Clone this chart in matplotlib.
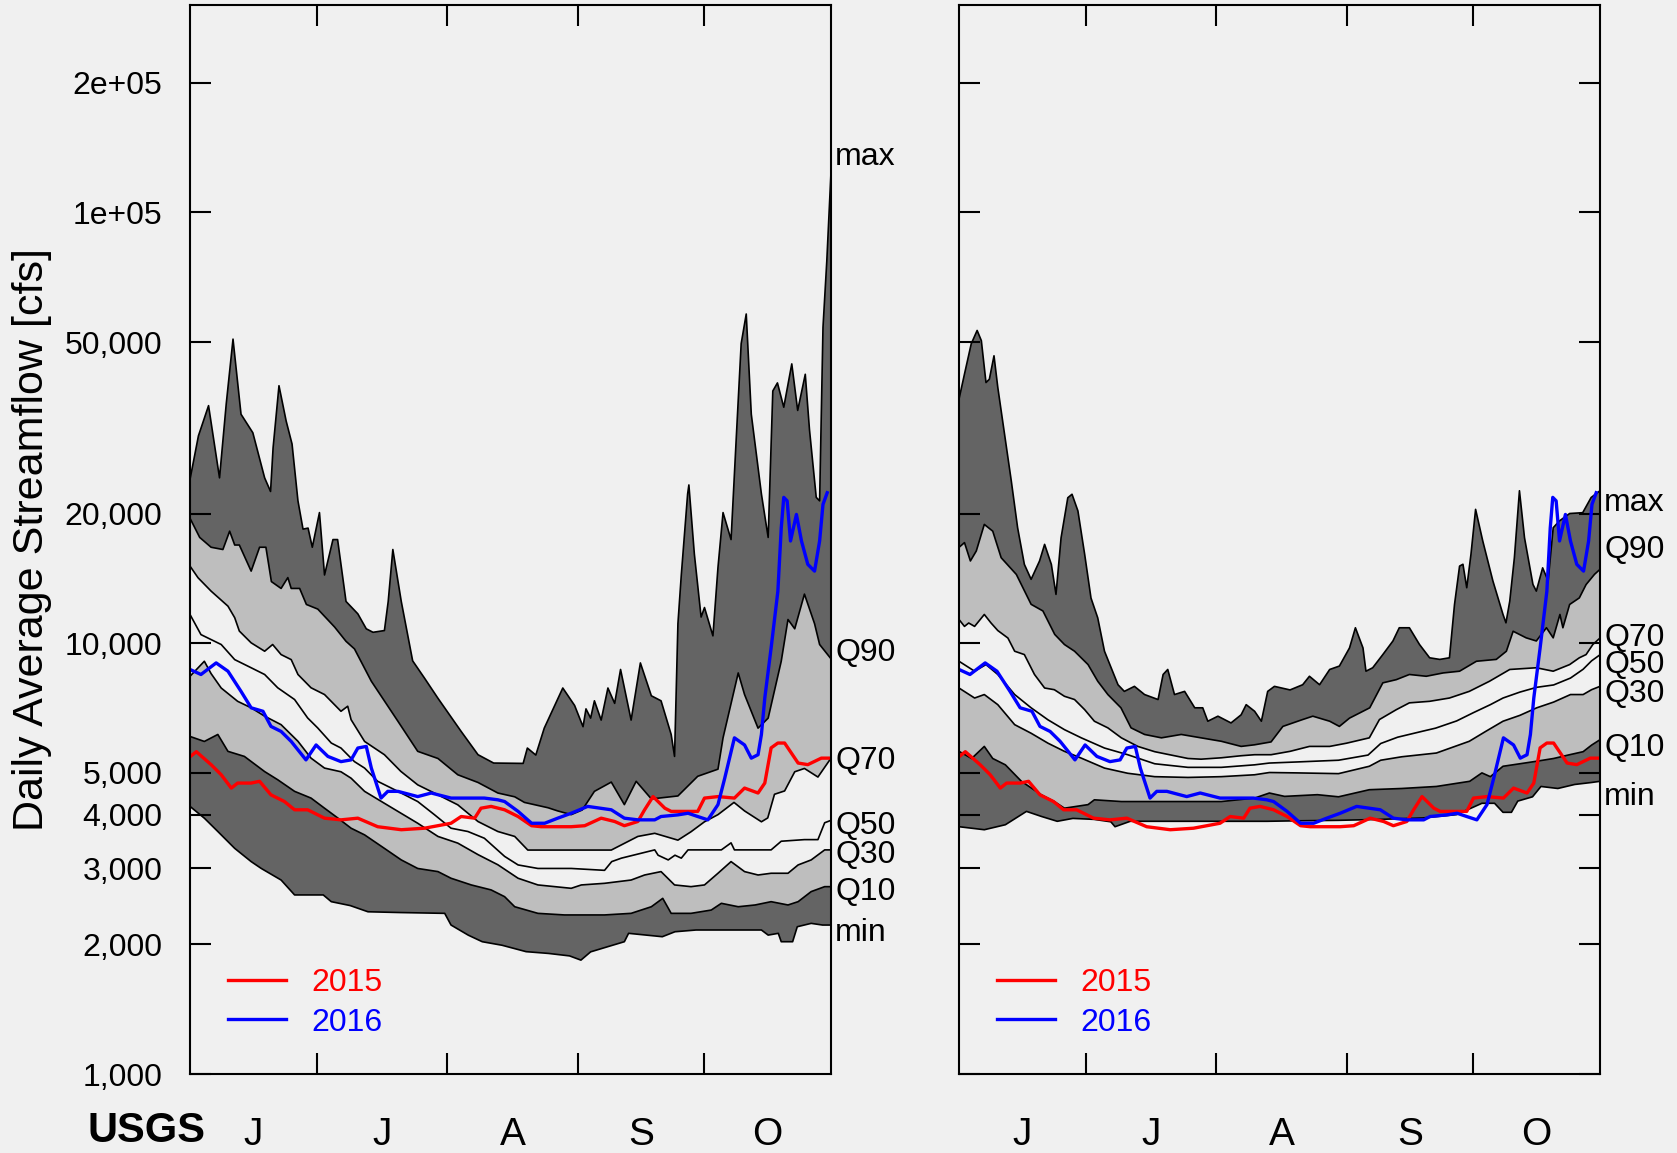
import numpy as np
import matplotlib.pyplot as plt
from matplotlib.ticker import FixedLocator, FixedFormatter, NullFormatter, NullLocator

plt.rcParams['font.family'] = ['Liberation Sans', 'DejaVu Sans']

# day 0 = June 1, day 152 = Oct 31; values in cfs (day, value)
# left panel quantiles
L_MAX = [(0, 24000), (2, 30300), (4.4, 35600), (7, 24200), (8.6, 36000), (10.2, 50800), (12.1, 34000),
         (14.9, 30800), (17.7, 24200), (19.1, 22500), (19.7, 28400), (21.1, 39600), (22.8, 32800),
         (24.2, 29000), (25.6, 21400), (26.8, 18400), (28, 18500), (29, 16700), (30.7, 20100),
         (31.9, 14400), (33.9, 17400), (35, 17400), (37, 12500), (39.8, 11700), (41.8, 10800),
         (43.4, 10600), (46.1, 10700), (47, 12500), (48.1, 16500), (50.1, 12500), (52.8, 9100),
         (55.6, 8300), (58.8, 7450), (64.3, 6240), (68.3, 5510), (72, 5270), (79, 5260), (80, 5710),
         (82, 5500), (84, 6350), (88.4, 7870), (91.2, 7170), (93.2, 6400), (93.9, 7040), (95, 6700),
         (95.9, 7350), (97.5, 6630), (99.1, 7870), (100.7, 7250), (102.1, 8690), (104.6, 6630),
         (106.8, 9000), (109.4, 7550), (111.7, 7350), (114.1, 6140), (114.9, 5460), (115.7, 11100),
         (116.5, 14400), (118, 22200), (118.3, 23300), (119.6, 16100), (121.2, 11500), (122, 12100),
         (124, 10400), (125.2, 15000), (126.4, 20100), (128.3, 17400), (129.5, 29500), (130.7, 49600),
         (131.9, 58100), (133.1, 34000), (135.5, 22200), (137.1, 17600), (138.2, 38500), (139.3, 40200),
         (140.8, 35300), (142.7, 44500), (144.1, 34700), (145.9, 42100), (146.9, 31300), (148.5, 21800),
         (149.3, 21400), (150.1, 54100), (151, 77000), (152, 124000)]
L_Q90 = [(0, 19500), (2.3, 17600), (5, 16700), (7.8, 16500), (9.4, 18200), (10.6, 16900), (11.7, 16900),
         (14.5, 14700), (16.5, 16700), (18, 16700), (19.3, 13900), (21.6, 13400), (23.2, 14200),
         (24, 13400), (26, 13400), (27.6, 12300), (30.3, 12000), (34.3, 10900), (37, 10100), (39, 9700),
         (43, 8160), (49.3, 6590), (54, 5610), (58.8, 5400), (63.5, 4950), (68.3, 4750), (73, 4490),
         (77, 4400), (79.3, 4270), (84.9, 4150), (87.2, 4080), (90.4, 4000), (93, 4100), (95.9, 4530),
         (99.9, 4760), (103, 4220), (105.8, 4780), (109.4, 4350), (115.7, 4420), (120.4, 4910),
         (125.2, 5100), (126.4, 6030), (130, 8530), (131.5, 7600), (134.7, 6350), (137.1, 6700),
         (140.2, 9080), (141.8, 11350), (143.4, 10800), (145.7, 13000), (148.1, 11100), (149.3, 9930),
         (152, 9200)]
L_Q70 = [(0, 15100), (1.9, 14190), (5, 13210), (9, 12190), (10.6, 11460), (11.7, 10670), (14.5, 10020),
         (17.7, 9580), (19.6, 9930), (21.6, 9410), (24, 9160), (25.6, 8460), (28.7, 7880), (31.9, 7600),
         (35.8, 6950), (37.4, 7140), (38.2, 6645), (41.4, 5915), (46.1, 5510), (50, 5040), (54, 4690),
         (58.8, 4446), (63.5, 4215), (68.3, 3855), (73, 3655), (77, 3560), (80.1, 3310), (90.4, 3310),
         (99.9, 3310), (106.2, 3560), (110.2, 3620), (115.7, 3490), (118.8, 3650), (122, 3850),
         (125.2, 4000), (129, 4270), (131.5, 4080), (135.5, 3850), (137, 3930), (138.6, 4460),
         (141, 4540), (143.4, 5030), (145.7, 5120), (148.9, 4890), (152, 5410)]
L_Q50 = [(0, 11660), (2.6, 10470), (7.4, 9930), (10.6, 9160), (14.5, 8770), (17.7, 8460), (20.8, 7880),
         (24.8, 7400), (27.9, 6706), (30.3, 6355), (33.5, 5865), (35.8, 5710), (39, 5310), (41.4, 5130),
         (44.5, 4780), (49.3, 4530), (54, 4290), (58, 3996), (61.9, 3720), (65.9, 3655), (69.8, 3526),
         (74.6, 3200), (77.8, 3057), (82.5, 3000), (90.4, 3000), (98.3, 2970), (100, 3112), (102.3, 3170),
         (110.2, 3313), (111, 3220), (113.4, 3140), (115, 3220), (116.5, 3170), (118.1, 3313),
         (126, 3313), (128.3, 3440), (129.1, 3313), (137.8, 3313), (140.2, 3470), (145.7, 3500),
         (148.9, 3500), (150.5, 3830), (152, 3880)]
L_Q30 = [(0, 8380), (3.4, 9080), (5, 8500), (7.4, 7870), (11.3, 7330), (14.5, 7080), (17.7, 6770),
         (21.6, 6470), (25.6, 5920), (28.7, 5410), (31.9, 5130), (35.8, 5030), (38.2, 4860), (41.4, 4530),
         (46.1, 4250), (49.3, 4070), (54, 3820), (58.8, 3560), (63.5, 3435), (68.3, 3230), (73, 3060),
         (77.8, 2847), (82.5, 2747), (90.4, 2698), (92.8, 2747), (98.3, 2771), (104.6, 2820),
         (107.8, 2897), (111.7, 2950), (114.9, 2747), (118.8, 2722), (122, 2747), (125.2, 2924),
         (128.3, 3112), (131.5, 2950), (134.7, 2897), (137.8, 2924), (141.8, 2924), (144.2, 3057),
         (147.3, 3140), (150.5, 3313), (152, 3313)]
L_Q10 = [(0, 6075), (3.4, 5915), (6.6, 6140), (9, 5610), (12.9, 5460), (17.7, 5035), (20.8, 4820),
         (24.8, 4530), (28.7, 4370), (31.9, 4140), (35.1, 3925), (38.2, 3720), (41.4, 3590), (46.1, 3340),
         (50.1, 3140), (54, 3000), (58.8, 2950), (61.9, 2847), (66.7, 2747), (71.4, 2675), (74.6, 2580),
         (77, 2445), (82.5, 2360), (88.8, 2340), (98.3, 2340), (104.6, 2360), (109.4, 2445),
         (112.1, 2557), (114.1, 2360), (118.8, 2360), (123.6, 2402), (126, 2490), (130, 2445),
         (134, 2468), (137.8, 2512), (141.8, 2468), (144.2, 2512), (147.3, 2651), (150.5, 2722),
         (152, 2722)]
L_MIN = [(0, 4180), (3.4, 3925), (6.6, 3655), (10.6, 3340), (14.5, 3112), (16.9, 3000), (21.6, 2820),
         (24.8, 2604), (31.6, 2604), (33.5, 2512), (38, 2460), (42.2, 2380), (50, 2370), (60.4, 2360),
         (61.9, 2217), (66, 2100), (69.3, 2028), (74, 1990), (79.7, 1923), (85, 1905), (90, 1880),
         (92.7, 1838), (95, 1921), (99, 1974), (103, 2028), (104, 2121), (112, 2083), (115, 2139),
         (120, 2159), (130, 2159), (135.5, 2159), (137.1, 2101), (139.5, 2121), (140.2, 2028),
         (142.9, 2028), (144, 2197), (147.3, 2237), (150, 2217), (152, 2217)]

# right panel quantiles
R_MAX = [(0, 36870), (1.3, 42150), (2.9, 49540), (4.3, 53210), (5.3, 50390), (6.4, 40280), (7.2, 41000),
         (8.3, 46470), (9.2, 39250), (10.8, 30570), (12.4, 23810), (13.9, 18540), (15.5, 15240),
         (17.1, 14070), (19.1, 15520), (20.3, 16960), (21.9, 15240), (23, 12980), (24.2, 17560),
         (25.8, 21760), (26.8, 22170), (28.2, 20280), (29.8, 16080), (31.3, 12730), (32.9, 11450),
         (34.5, 9580), (36.1, 8760), (37.7, 8010), (39.2, 7730), (41.6, 7940), (44, 7600), (47.2, 7400),
         (48.4, 8460), (49.5, 8690), (51.1, 7600), (53.5, 7730), (55.9, 7080), (57.8, 7080), (59, 6590),
         (61.4, 6770), (64.5, 6530), (66.9, 6820), (68.1, 7200), (70.1, 6950), (71.7, 6590), (73.2, 7730),
         (74.8, 7940), (78.5, 7790), (81.5, 8010), (83.1, 8380), (85.5, 8010), (87.9, 8690), (90.2, 8850),
         (92.6, 9750), (94, 10860), (95.8, 9750), (96.5, 8610), (98.1, 8770), (100.5, 9410),
         (102.9, 10120), (104.4, 10860), (106.8, 10860), (109.2, 9930), (111.6, 9250), (114, 9170),
         (116.3, 9250), (117.5, 12300), (118.7, 15100), (119.5, 15250), (120.4, 13450), (121.4, 16080),
         (122.5, 20450), (124.2, 17270), (126.6, 13950), (129, 11660), (129.7, 11150), (130.6, 12520),
         (131.7, 15800), (132.9, 22590), (134.1, 17570), (136.1, 13690), (136.9, 13210), (138.4, 14960),
         (139.7, 13950), (140.9, 18540), (142.4, 19230), (144.8, 20000), (147.9, 20090), (149.9, 21790),
         (152, 22590)]
R_Q90 = [(0, 16690), (1.3, 17120), (2.7, 15520), (4.1, 16370), (6, 18870), (8, 18200), (10, 15790),
         (13.6, 14440), (17.1, 12310), (19.9, 11880), (22.7, 10480), (25, 9930), (27.4, 9580),
         (30.6, 8920), (32.9, 8160), (35.3, 7600), (38.4, 7080), (40.8, 6360), (44, 6140), (48, 6030),
         (52.7, 6140), (57.4, 6030), (62.2, 5920), (66.9, 5760), (70.1, 5810), (74, 5900), (76.8, 6410),
         (81.5, 6650), (83.9, 6770), (87.9, 6590), (90.2, 6410), (92.6, 6700), (97.4, 7080), (100.5, 8090),
         (103.7, 8230), (106.8, 8460), (110.8, 8380), (114.8, 8530), (118.7, 8610), (122.7, 9080),
         (127.4, 9170), (129.8, 9580), (131.4, 10660), (134.5, 10290), (136.9, 10120), (139.3, 10860),
         (140.9, 10290), (142.5, 11660), (143.2, 10860), (144.8, 12300), (147.1, 12740), (148.7, 13680),
         (150.7, 14450), (152, 14840)]
R_Q70 = [(0, 11350), (1.3, 10940), (2.3, 11140), (3.7, 10940), (6, 11660), (7.6, 11140), (9.2, 10700),
         (11.6, 10280), (13.2, 9580), (15.5, 9410), (17.9, 8460), (20.3, 7870), (22.6, 7800), (25, 7530),
         (27.4, 7400), (29.8, 7010), (32.1, 6590), (35.3, 6360), (38.5, 6030), (42.4, 5760), (46.4, 5600),
         (50.3, 5500), (54.3, 5400), (57.4, 5380), (62.2, 5420), (66.9, 5480), (70.1, 5510), (74, 5510),
         (78.5, 5610), (83.1, 5760), (87.9, 5760), (91.9, 5860), (97.3, 6030), (99.7, 6650), (103.7, 7010),
         (106.8, 7270), (111.6, 7330), (116.3, 7460), (121, 7730), (125.8, 8160), (130.6, 8690),
         (136.9, 8770), (140.9, 8610), (144.8, 8920), (147.1, 9250), (148.7, 9410), (150.3, 9930),
         (152, 10280)]
R_Q50 = [(0, 9080), (3.7, 8610), (6.4, 8920), (9.2, 8460), (13.2, 7600), (17.1, 7080), (21.1, 6640),
         (25, 6300), (29, 6030), (34.5, 5710), (40, 5510), (46.4, 5250), (54.3, 5150), (62.2, 5150),
         (70.1, 5220), (73.6, 5270), (80, 5300), (90, 5350), (97, 5500), (100, 5850), (104, 6050),
         (110, 6250), (113, 6350), (118, 6600), (122, 6900), (126, 7200), (129, 7460), (133, 7700),
         (137, 7900), (141, 8000), (145, 8300), (148, 8700), (150, 9100), (152, 9400)]
R_Q30 = [(0, 7870), (3.7, 7460), (6, 7600), (9.2, 7200), (13.2, 6470), (17.1, 6180), (21.1, 5860),
         (25, 5610), (29, 5410), (34.5, 5130), (40, 4990), (46.4, 4900), (54.3, 4880), (62.2, 4900),
         (70.1, 4950), (73.6, 5010), (80, 5000), (90, 4980), (97.3, 5180), (100, 5350), (105, 5450),
         (113.2, 5560), (121, 5920), (125, 6250), (129, 6590), (133, 6800), (137, 7080), (141, 7300),
         (145, 7600), (148, 7600), (150, 7800), (152, 7940)]
R_Q10 = [(0, 5610), (3, 5400), (6, 5760), (8, 5400), (11, 5220), (14.8, 4780), (19.5, 4450), (22.6, 4290),
         (25, 4140), (30.6, 4220), (32.1, 4330), (38.5, 4290), (46.4, 4290), (54.3, 4290), (62.2, 4290),
         (70.1, 4370), (73.6, 4490), (77.2, 4410), (85, 4450), (90, 4400), (97.3, 4570), (105, 4600),
         (113.2, 4650), (121.1, 4780), (124, 5000), (126, 4900), (129, 5180), (133, 5250), (136.9, 5320),
         (141, 5400), (144.8, 5510), (148, 5600), (150, 5800), (152, 5970)]
R_MIN = [(0, 3750), (6, 3690), (11, 3790), (16, 4070), (19.6, 3960), (23.3, 3860), (27, 3920), (32, 3900),
         (36, 3850), (37, 3750), (40.6, 3860), (50, 3860), (63, 3860), (73, 3860), (80, 3870), (90, 3880),
         (100, 3900), (110, 3930), (118, 4000), (124, 4250), (127, 4250), (129, 4050), (131, 4050),
         (132.5, 4300), (136, 4400), (138, 4650), (142, 4600), (146, 4700), (150, 4750), (152, 4780)]

# observed years (same in both panels)
Y2015 = [(0, 5450), (1.5, 5600), (5, 5225), (7.4, 4950), (9.8, 4610), (11.3, 4735), (14.5, 4735),
         (16.5, 4780), (19.2, 4446), (22.4, 4290), (24.8, 4105), (27.9, 4105), (31.9, 3925), (35.8, 3890),
         (39.8, 3925), (44.5, 3750), (50.1, 3690), (55.6, 3720), (61.9, 3820), (64.3, 3960), (67.5, 3925),
         (69, 4140), (71.4, 4180), (74.6, 4105), (77.8, 3960), (81, 3770), (83.3, 3750), (90.4, 3750),
         (93.6, 3770), (97.5, 3925), (100.7, 3856), (103, 3770), (106.2, 3856), (107.8, 4105),
         (109.8, 4405), (112.6, 4140), (114.1, 4070), (120.4, 4070), (122, 4370), (125.2, 4405),
         (129.1, 4370), (131.5, 4610), (134.7, 4490), (136.3, 4735), (137.8, 5715), (139.4, 5865),
         (141, 5865), (144.2, 5270), (146.5, 5225), (149.7, 5410), (151.7, 5410)]
Y2016 = [(0, 8690), (2.6, 8460), (6.2, 9000), (9, 8610), (12.1, 7730), (14.5, 7080), (17.3, 6950),
         (19.2, 6410), (21.6, 6240), (24, 5915), (27.5, 5360), (29.9, 5805), (32.7, 5460), (35.8, 5310),
         (38.2, 5360), (39.8, 5710), (41.8, 5760), (43, 5130), (45.3, 4370), (46.9, 4530), (49.3, 4530),
         (54, 4405), (57.2, 4490), (61.9, 4370), (69.8, 4370), (73, 4330), (74.6, 4290), (77.8, 4070),
         (81, 3820), (84.1, 3820), (87.2, 3925), (90.4, 4030), (94.3, 4180), (99.9, 4105), (103, 3925),
         (106.2, 3890), (110.2, 3890), (111.7, 3960), (115.7, 3995), (118.1, 4030), (120.4, 3960),
         (122.8, 3890), (125.2, 4220), (126.8, 4860), (129.1, 6030), (131.5, 5805), (133.1, 5410),
         (134.7, 5510), (135.5, 6140), (136.3, 7460), (137.8, 9750), (139.4, 13200), (140.2, 18500),
         (140.8, 21800), (141.6, 21400), (142.4, 17270), (143.8, 19900), (145, 17270), (146.5, 15240),
         (148.1, 14700), (149.3, 17270), (150.1, 21000), (151.1, 22350)]

QUANT_NAMES = ['max', 'Q90', 'Q70', 'Q50', 'Q30', 'Q10', 'min']
L_LABEL_AT = [137700, 9700, 5460, 3850, 3300, 2700, 2170]
R_LABEL_AT = [21600, 16800, 10500, 9100, 7800, 5840, 4490]

MONTH_STARTS = [30, 61, 92, 122]
MONTH_MIDS = [15, 45.5, 76.5, 107, 137]
MONTH_LABELS = ['J', 'J', 'A', 'S', 'O']
YTICKS = [1000, 2000, 3000, 4000, 5000, 10000, 20000, 50000, 100000, 200000]
YTICKLABELS = ['1,000', '2,000', '3,000', '4,000', '5,000', '10,000', '20,000', '50,000', '1e+05', '2e+05']

BG = '#f0f0f0'
DARK = '#646464'
LIGHT = '#bebebe'


def band(ax, upper, lower, color):
    ud, uv = np.array(upper).T
    ld, lv = np.array(lower).T
    ax.fill(np.r_[ud, ld[::-1]], np.r_[uv, lv[::-1]], color=color, lw=0)


def panel(ax, quants, label_at, show_ylabels):
    mx, q90, q70, q50, q30, q10, mn = quants
    band(ax, mx, q90, DARK)
    band(ax, q90, q70, LIGHT)
    band(ax, q30, q10, LIGHT)
    band(ax, q10, mn, DARK)
    for s in quants:
        d, v = np.array(s).T
        ax.plot(d, v, color='black', lw=1.2)
    d, v = np.array(Y2015).T
    ax.plot(d, v, color='red', lw=2.4, label='2015')
    d, v = np.array(Y2016).T
    ax.plot(d, v, color='blue', lw=2.4, label='2016')

    ax.set_yscale('log')
    ax.set_xlim(0, 152)
    ax.set_ylim(1000, 3.03e5)
    ax.set_facecolor(BG)

    ax.yaxis.set_major_locator(FixedLocator(YTICKS))
    ax.yaxis.set_minor_locator(NullLocator())
    if show_ylabels:
        ax.yaxis.set_major_formatter(FixedFormatter(YTICKLABELS))
    else:
        ax.yaxis.set_major_formatter(NullFormatter())
    ax.tick_params(axis='y', which='major', direction='in', length=15, width=1.5,
                   labelsize=23, pad=20, left=True, right=not show_ylabels)

    ax.xaxis.set_major_locator(FixedLocator(MONTH_STARTS))
    ax.xaxis.set_major_formatter(NullFormatter())
    ax.xaxis.set_minor_locator(FixedLocator(MONTH_MIDS))
    ax.xaxis.set_minor_formatter(FixedFormatter(MONTH_LABELS))
    ax.tick_params(axis='x', which='major', direction='in', length=15, width=1.5, top=True, bottom=True)
    ax.tick_params(axis='x', which='minor', length=0, labelsize=28, pad=31)

    for sp in ax.spines.values():
        sp.set_linewidth(1.5)

    for name, yv in zip(QUANT_NAMES, label_at):
        ax.annotate(name, xy=(1, yv), xycoords=('axes fraction', 'data'), xytext=(3, -3),
                    textcoords='offset points', ha='left', va='center', fontsize=23,
                    annotation_clip=False)

    ax.legend(loc='lower left', bbox_to_anchor=(0.06, 0.034), frameon=False, fontsize=23,
              handlelength=1.8, handletextpad=0.8, labelspacing=0.3, borderpad=0,
              borderaxespad=0, labelcolor='linecolor')


fig = plt.figure(figsize=(16.77, 11.53), dpi=100, facecolor=BG)
ax1 = fig.add_axes([190 / 1677, 1 - 1074 / 1153, 641 / 1677, 1069 / 1153])
ax2 = fig.add_axes([959 / 1677, 1 - 1074 / 1153, 641 / 1677, 1069 / 1153])

panel(ax1, [L_MAX, L_Q90, L_Q70, L_Q50, L_Q30, L_Q10, L_MIN], L_LABEL_AT, True)
panel(ax2, [R_MAX, R_Q90, R_Q70, R_Q50, R_Q30, R_Q10, R_MIN], R_LABEL_AT, False)

fig.text(32 / 1677, 1 - 540 / 1153, 'Daily Average Streamflow [cfs]', rotation=90,
         ha='center', va='center', fontsize=31)
fig.text(205 / 1677, 2 / 1153, 'USGS', ha='right', va='bottom', fontsize=30, weight='heavy')

fig.savefig('out.png', dpi=100, facecolor=BG)
